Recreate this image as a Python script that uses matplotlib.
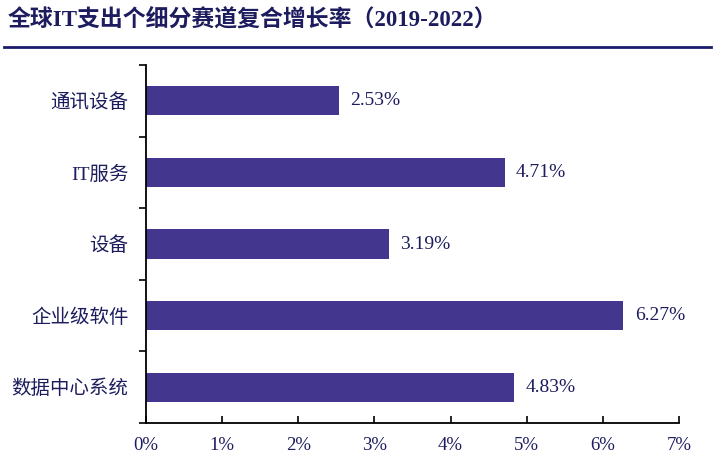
import matplotlib.pyplot as plt
from matplotlib.lines import Line2D

# --- Data ---
categories = ['通讯设备', 'IT服务', '设备', '企业级软件', '数据中心系统']
cagr = [2.53, 4.71, 3.19, 6.27, 4.83]
x_ticks = [0, 1, 2, 3, 4, 5, 6, 7]
x_labels = ['0%', '1%', '2%', '3%', '4%', '5%', '6%', '7%']
title = '全球IT支出个细分赛道复合增长率（2019-2022）'

bar_color = '#43368f'
text_color = '#1c1c5e'
fonts = ['Liberation Serif', 'Noto Sans CJK SC', 'DejaVu Sans']

plt.rcParams['font.family'] = fonts

fig = plt.figure(figsize=(7.25, 4.61), dpi=100)
ax = fig.add_axes([0.2014, 0.0824, 0.7352, 0.7766])

# top category first
pos = [len(categories) - 1 - i for i in range(len(categories))]
ax.barh(pos, cagr, height=0.41, color=bar_color)

for p, v in zip(pos, cagr):
    ax.text(v + 0.15, p, f'{v:.2f}%', va='center', ha='left',
            fontsize=14, color=text_color)

ax.set_xlim(0, 7)
ax.set_ylim(-0.5, 4.49)
ax.set_xticks(x_ticks)
ax.set_xticklabels(x_labels, fontsize=13.5, color=text_color)
ax.set_yticks(pos)
ax.set_yticklabels(categories, fontsize=14, color=text_color)
ax.set_yticks([k - 0.5 for k in range(len(categories) + 1)], minor=True)

ax.tick_params(axis='y', which='major', length=0, pad=12.5)
ax.tick_params(axis='y', which='minor', length=5, width=1.2, direction='out')
ax.tick_params(axis='x', length=5, width=1.2, direction='in', pad=10)

for s in ['top', 'right']:
    ax.spines[s].set_visible(False)
ax.spines['left'].set_linewidth(1.3)
ax.spines['bottom'].set_linewidth(1.3)

# title and rule underneath
fig.text(0.011, 0.958, title, fontsize=16.5, fontweight='bold',
         color=text_color, va='center', ha='left')
fig.add_artist(Line2D([0.006, 0.98], [0.898, 0.898], transform=fig.transFigure,
                      color='#1c1c6e', linewidth=2))

fig.savefig('out.png', dpi=100)
